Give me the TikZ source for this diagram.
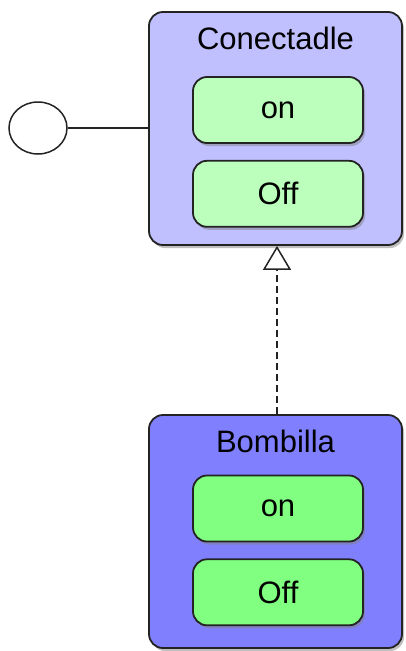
\documentclass[tikz,border=0pt]{standalone}
\usepackage{fontspec}
\setmainfont{Liberation Sans}
\usetikzlibrary{positioning, shapes.geometric, shadows, arrows.meta}

\definecolor{ifacefill}{RGB}{192,192,255}
\definecolor{classfill}{RGB}{128,128,255}
\definecolor{ifaceop}{RGB}{188,255,188}
\definecolor{classop}{RGB}{128,255,128}
\definecolor{edge}{RGB}{35,35,35}

\begin{document}
\begin{tikzpicture}[
			x=1pt, y=-1pt,
			font=\fontsize{31}{36}\selectfont,
			classbox/.style={draw=edge, line width=1.8pt, rounded corners=14pt,
				minimum width=253pt, minimum height=233pt,
				drop shadow={shadow xshift=2pt, shadow yshift=-3pt, fill=black!50}},
			opbox/.style={draw=edge, line width=1.8pt, rounded corners=14pt,
				minimum width=170pt, minimum height=66pt,
				drop shadow={shadow xshift=2pt, shadow yshift=-3pt, fill=black!50}},
			realize/.style={dashed, dash pattern=on 7pt off 4pt, line width=1.6pt, edge,
				-{Triangle[open, length=24pt, width=28pt, line width=1.5pt]}}
			]
			\useasboundingbox (0,0) rectangle (405,651);
			% interface
			\node[classbox, fill=ifacefill] (conectadle) at (275.5,128.5) {};
			\node[below=12pt of conectadle.north] (conectadleName) {Conectadle};
			\node[opbox, fill=ifaceop] (conectadleOn) at (278,110) {on};
			\node[opbox, fill=ifaceop, below=16pt of conectadleOn] (conectadleOff) {Off};
			% lollipop
			\node[ellipse, draw=edge, line width=1.5pt, fill=white,
				minimum width=58pt, minimum height=52pt] (port) at (38,128) {};
			\draw[edge, line width=1.5pt] (port) -- (port -| conectadle.west);
			% class
			\node[classbox, fill=classfill] (bombilla) at (275.5,531.5) {};
			\node[below=12pt of bombilla.north] (bombillaName) {Bombilla};
			\node[opbox, fill=classop] (bombillaOn) at (278,508.5) {on};
			\node[opbox, fill=classop, below=16pt of bombillaOn] (bombillaOff) {Off};
			% realization
			\draw[realize] (bombilla.north -| 277,0) -- (conectadle.south -| 277,0);
		\end{tikzpicture}
\end{document}
